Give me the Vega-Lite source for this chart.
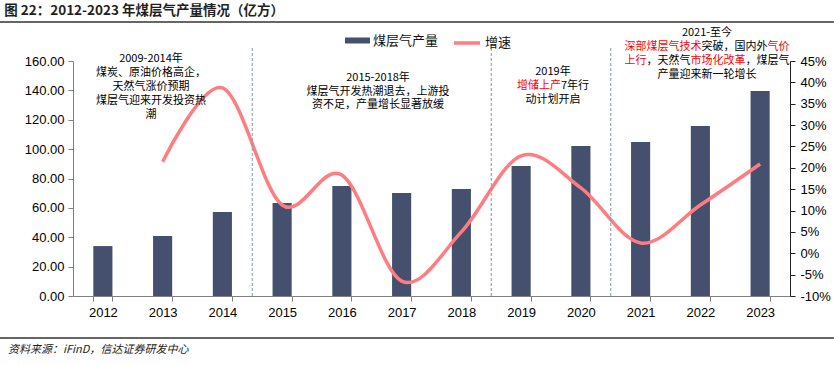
{
  "$schema": "https://vega.github.io/schema/vega-lite/v6.json",
  "width": 717,
  "height": 235,
  "autosize": {"type": "none"},
  "padding": {"left": 73, "top": 61, "right": 44, "bottom": 69},
  "background": "#ffffff",
  "title": {"text": "图 22：2012-2023 年煤层气产量情况（亿方）", "anchor": "start", "frame": "bounds", "dx": 5, "offset": 4, "font": "Noto Sans CJK SC", "fontSize": 13.5, "fontWeight": "bold", "color": "#1f1f1f"},
  "config": {
    "view": {"stroke": null},
    "axis": {"labelFont": "Liberation Sans", "labelFontSize": 13, "labelColor": "#000000", "tickSize": 5, "domainWidth": 1, "grid": false, "title": null},
    "legend": {"labelFont": "Noto Sans CJK SC", "labelFontSize": 13, "labelColor": "#111111", "padding": 0}
  },
  "datasets": {
    "main": [
      {"year": "2012", "output": 34.0, "growth": null},
      {"year": "2013", "output": 40.9, "growth": 21.4},
      {"year": "2014", "output": 57.2, "growth": 38.7},
      {"year": "2015", "output": 63.3, "growth": 11.3},
      {"year": "2016", "output": 74.9, "growth": 18.3},
      {"year": "2017", "output": 70.1, "growth": -6.5},
      {"year": "2018", "output": 72.9, "growth": 5.0},
      {"year": "2019", "output": 88.5, "growth": 22.8},
      {"year": "2020", "output": 102.1, "growth": 15.3},
      {"year": "2021", "output": 104.9, "growth": 2.4},
      {"year": "2022", "output": 115.7, "growth": 11.3},
      {"year": "2023", "output": 139.6, "growth": 20.9}
    ]
  },
  "layer": [
    {
      "data": {"name": "main"},
      "mark": {"type": "bar"},
      "encoding": {
        "x": {"field": "year", "type": "ordinal", "scale": {"paddingInner": 0.68, "paddingOuter": 0.34}, "axis": {"labelAngle": 0, "tickBand": "extent", "labelPadding": 5, "domainColor": "#808080", "tickColor": "#808080"}},
        "y": {"field": "output", "type": "quantitative", "scale": {"domain": [0, 160], "nice": false}, "axis": {"orient": "left", "values": [0, 20, 40, 60, 80, 100, 120, 140, 160], "format": ".2f", "labelPadding": 4, "domainColor": "#808080", "tickColor": "#808080"}},
        "fill": {"datum": "煤层气产量", "type": "nominal", "scale": {"range": ["#44506E"]}, "legend": {"orient": "none", "legendX": 272, "legendY": -33, "symbolType": "M-1,-0.24H1V0.24H-1Z", "symbolSize": 625, "symbolStrokeWidth": 0, "title": null, "labelOffset": 3}}
      }
    },
    {
      "data": {"name": "main"},
      "mark": {"type": "line", "interpolate": "cardinal", "strokeWidth": 3.5},
      "encoding": {
        "x": {"field": "year", "type": "ordinal", "scale": {"paddingInner": 0.68, "paddingOuter": 0.34}, "axis": null},
        "y": {"field": "growth", "type": "quantitative", "scale": {"domain": [-10, 45], "nice": false, "zero": false}, "axis": {"orient": "right", "values": [-10, -5, 0, 5, 10, 15, 20, 25, 30, 35, 40, 45], "labelExpr": "datum.value + '%'", "labelPadding": 5, "domainColor": "#222222", "tickColor": "#222222"}},
        "stroke": {"datum": "增速", "type": "nominal", "scale": {"range": ["#FF7C80"]}, "legend": {"orient": "none", "legendX": 379, "legendY": -33, "symbolType": "stroke", "symbolSize": 676, "symbolStrokeWidth": 3.5, "title": null, "labelOffset": 3}}
      }
    },
    {
      "data": {"values": [{"p": 3}, {"p": 7}, {"p": 9}]},
      "mark": {"type": "rule", "color": "#8497B0", "strokeDash": [3, 2], "strokeWidth": 1},
      "encoding": {
        "x": {"field": "p", "type": "quantitative", "scale": {"domain": [0, 12], "nice": false, "zero": false}, "axis": null},
        "y": {"datum": 0, "type": "quantitative", "scale": {"domain": [0, 160], "nice": false}, "axis": null},
        "y2": {"datum": 169}
      }
    },
    {
      "data": {"values": [{"a": -1.222, "b": 12.736, "v": 186.6}, {"a": -1.222, "b": 12.736, "v": -28.6}]},
      "mark": {"type": "rule", "color": "#333333", "strokeWidth": 1.5},
      "encoding": {
        "x": {"field": "a", "type": "quantitative", "scale": {"domain": [0, 12], "nice": false, "zero": false}, "axis": null},
        "x2": {"field": "b"},
        "y": {"field": "v", "type": "quantitative", "scale": {"domain": [0, 160], "nice": false}, "axis": null}
      }
    },
    {
      "data": {"values": [{"p": -1.088, "v": -36.8, "t": "资料来源：iFinD，信达证券研发中心"}]},
      "mark": {"type": "text", "align": "left", "baseline": "middle", "font": "Noto Sans CJK SC", "fontSize": 11, "fontStyle": "italic", "color": "#222222"},
      "encoding": {
        "x": {"field": "p", "type": "quantitative", "scale": {"domain": [0, 12], "nice": false, "zero": false}, "axis": null},
        "y": {"field": "v", "type": "quantitative", "scale": {"domain": [0, 160], "nice": false}, "axis": null},
        "text": {"field": "t"}
      }
    },
    {
      "data": {"values": [
        {"p": 1.305, "v": 161.4, "t": "2009-2014年"},
        {"p": 1.305, "v": 151.8, "t": "煤炭、原油价格高企，"},
        {"p": 1.305, "v": 142.3, "t": "天然气涨价预期"},
        {"p": 1.305, "v": 132.8, "t": "煤层气迎来开发投资热"},
        {"p": 1.305, "v": 123.2, "t": "潮"},
        {"p": 5.105, "v": 148.4, "t": "2015-2018年"},
        {"p": 5.105, "v": 139.2, "t": "煤层气开发热潮退去，上游投"},
        {"p": 5.105, "v": 130.0, "t": "资不足，产量增长显著放缓"},
        {"p": 8.033, "v": 152.5, "t": "2019年"},
        {"p": 8.033, "v": 133.4, "t": "动计划开启"},
        {"p": 10.611, "v": 179.1, "t": "2021-至今"},
        {"p": 10.611, "v": 150.5, "t": "产量迎来新一轮增长"}
      ]},
      "mark": {"type": "text", "align": "center", "baseline": "middle", "font": "Noto Sans CJK SC", "fontSize": 11, "color": "#000000"},
      "encoding": {
        "x": {"field": "p", "type": "quantitative", "scale": {"domain": [0, 12], "nice": false, "zero": false}, "axis": null},
        "y": {"field": "v", "type": "quantitative", "scale": {"domain": [0, 160], "nice": false}, "axis": null},
        "text": {"field": "t"}
      }
    },
    {
      "data": {"values": [
        {"p": 8.167, "v": 143.0, "t": "7年行"},
        {"p": 10.519, "v": 169.5, "t": "突破，国内外"},
        {"p": 9.598, "v": 160.0, "t": "，天然气"},
        {"p": 11.255, "v": 160.0, "t": "，煤层气"}
      ]},
      "mark": {"type": "text", "align": "left", "baseline": "middle", "font": "Noto Sans CJK SC", "fontSize": 11, "color": "#000000"},
      "encoding": {
        "x": {"field": "p", "type": "quantitative", "scale": {"domain": [0, 12], "nice": false, "zero": false}, "axis": null},
        "y": {"field": "v", "type": "quantitative", "scale": {"domain": [0, 160], "nice": false}, "axis": null},
        "text": {"field": "t"}
      }
    },
    {
      "data": {"values": [
        {"p": 7.431, "v": 143.0, "t": "增储上产"},
        {"p": 9.230, "v": 169.5, "t": "深部煤层气技术"},
        {"p": 11.623, "v": 169.5, "t": "气价"},
        {"p": 9.230, "v": 160.0, "t": "上行"},
        {"p": 10.335, "v": 160.0, "t": "市场化改革"}
      ]},
      "mark": {"type": "text", "align": "left", "baseline": "middle", "font": "Noto Sans CJK SC", "fontSize": 11, "color": "#FF0000"},
      "encoding": {
        "x": {"field": "p", "type": "quantitative", "scale": {"domain": [0, 12], "nice": false, "zero": false}, "axis": null},
        "y": {"field": "v", "type": "quantitative", "scale": {"domain": [0, 160], "nice": false}, "axis": null},
        "text": {"field": "t"}
      }
    }
  ],
  "resolve": {"scale": {"x": "independent", "y": "independent", "fill": "independent", "stroke": "independent"}, "axis": {"x": "independent", "y": "independent"}}
}
